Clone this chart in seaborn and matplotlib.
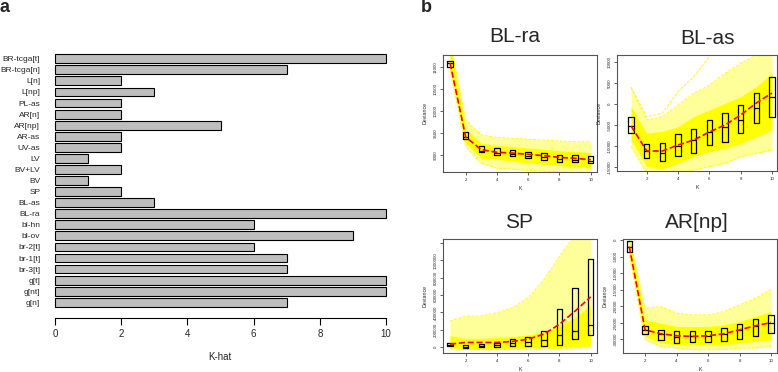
import numpy as np
import pandas as pd
import matplotlib
matplotlib.use("Agg")
import matplotlib.pyplot as plt
import seaborn as sns

# ---------------- data: panel a ----------------
categories = ["BR-tcga[t]", "BR-tcga[n]", "L[n]", "L[np]", "PL-as", "AR[n]", "AR[np]",
              "AR-as", "UV-as", "LV", "BV+LV", "BV", "SP", "BL-as", "BL-ra", "bl-hn",
              "bl-ov", "br-2[t]", "br-1[t]", "br-3[t]", "g[t]", "g[nt]", "g[n]"]
khat = [10, 7, 2, 3, 2, 2, 5, 2, 2, 1, 2, 1, 2, 3, 10, 6, 9, 6, 7, 7, 10, 10, 7]
khat_ticks = [0, 2, 4, 6, 8, 10]

# ---------------- data: panel b ----------------
k = [1, 2, 3, 4, 5, 6, 7, 8, 9, 10]
k_ticks = [2, 4, 6, 8, 10]

# BL-ra
blra_med = [11091, 9409, 9091, 9045, 9023, 8977, 8955, 8909, 8886, 8864]
blra_q1 = [11000, 9364, 9061, 9000, 8970, 8924, 8894, 8848, 8833, 8818]
blra_q3 = [11136, 9530, 9197, 9152, 9121, 9076, 9045, 9000, 9000, 8985]
blra_mean = [11091, 9409, 9121, 9061, 9045, 9015, 8985, 8947, 8924, 8894]
blra_hi = [11600, 9795, 9455, 9400, 9380, 9360, 9340, 9320, 9300, 9300]
blra_lo = [10932, 9189, 8811, 8700, 8680, 8650, 8630, 8620, 8600, 8600]
blra_chi = [11500, 9607, 9266, 9220, 9190, 9160, 9130, 9100, 9080, 9050]
blra_clo = [10980, 9266, 8925, 8900, 8860, 8820, 8790, 8760, 8730, 8700]
blra_yticks = [9000, 9500, 10000, 10500, 11000]

# BL-as
blas_med = [-5238, -11190, -11667, -10000, -8571, -6667, -5476, -3810, -952, 1667]
blas_q1 = [-6905, -12857, -13571, -12381, -11667, -9762, -9048, -6905, -4524, -3095]
blas_q3 = [-3095, -9524, -9286, -7143, -5952, -3810, -2143, -238, 2619, 6429]
blas_mean = [-5238, -11190, -11190, -9762, -8571, -6667, -5000, -2619, 238, 2619]
blas_hi = [3970, -3810, -3020, -240, 2540, 4520, 7300, 9680, 11670, 12500]
blas_lo = [-10160, -16500, -16500, -16500, -15700, -14920, -14130, -12540, -11750, -10950]
blas_chi = [-640, -6980, -6500, -5400, -3020, -1430, 160, 1750, 4130, 7300]
blas_clo = [-8570, -14920, -15500, -14130, -12540, -11350, -10550, -9370, -7780, -6190]
blas_out = [3970, -3020, -2220, 2930, 6500, 11270, 16000, 20000, 24000, 28000]
blas_yticks = [-15000, -10000, -5000, 0, 5000, 10000]

# SP
sp_med = [22857, 4000, 15000, 22857, 49000, 53000, 80000, 137000, 186000, 259000]
sp_q1 = [8000, -15000, -4000, -4000, 8000, 11000, 15000, 23000, 91000, 137000]
sp_q3 = [42286, 26000, 34000, 45700, 88000, 111000, 186000, 434000, 682000, 1013000]
sp_mean = [34000, 53000, 53000, 53000, 65000, 91000, 149000, 263000, 415000, 579000]
sp_hi = [300000, 358000, 358000, 396000, 453000, 568000, 777000, 1043000, 1300000, 1300000]
sp_lo = [-20000, -30000, -30000, -30000, -25000, -25000, -20000, -15000, -10000, 0]
sp_chi = [130000, 100000, 100000, 110000, 120000, 140000, 171000, 248000, 341000, 487000]
sp_clo = [-4000, -30000, -25000, -20000, -15000, -10000, -4000, -4000, 0, 15000]
sp_yticks = [0, 200000, 400000, 600000, 800000, 1000000, 1200000]
sp_yticklabels = ["0", "200000", "400000", "600000", "800000", "1000000", ""]

# AR[np]
ar_med = [-2000, -27100, -28300, -29300, -29100, -29100, -28300, -27100, -26100, -25100]
ar_q1 = [-3500, -28300, -30100, -31100, -30900, -30900, -30600, -29900, -29100, -28100]
ar_q3 = [-400, -25900, -27300, -27600, -27600, -27600, -26600, -25300, -23900, -22600]
ar_mean = [-2000, -27100, -28300, -28900, -29100, -28900, -28300, -27100, -25900, -24900]
ar_hi = [1000, -20600, -20100, -22100, -22600, -22600, -21600, -19600, -17600, -14900]
ar_lo = [-4500, -30100, -32100, -32600, -33100, -33100, -33100, -32600, -32600, -32100]
ar_chi = [1000, -24100, -25100, -26100, -26100, -26100, -25600, -24600, -23100, -21600]
ar_clo = [-4000, -29100, -31100, -31600, -31600, -31600, -31600, -31100, -30600, -30100]
ar_yticks = [-30000, -25000, -20000, -15000, -10000, -5000, 0]

# ---------------- figure ----------------
sns.set_style("white")
plt.rcParams["font.family"] = ["Liberation Sans", "DejaVu Sans"]

W, H = 778, 372
fig = plt.figure(figsize=(W / 100, H / 100), dpi=100)


def px_axes(x0, x1, y0, y1):
    return fig.add_axes([x0 / W, 1 - y1 / H, (x1 - x0) / W, (y1 - y0) / H])


# ---- panel a ----
ax = px_axes(50, 392, 50, 318)
df = pd.DataFrame({"cat": categories, "khat": khat})
sns.barplot(data=df, y="cat", x="khat", orient="h", color="#BEBEBE", saturation=1,
            edgecolor="black", linewidth=0.8, width=0.8, ax=ax)
ax.set_xlim(-0.15, 10.18)
ax.set_ylim(23.42, -0.79)
for s in ["top", "right", "left"]:
    ax.spines[s].set_visible(False)
ax.spines["bottom"].set_bounds(0, 10)
ax.spines["bottom"].set_color("black")
ax.spines["bottom"].set_linewidth(0.8)
ax.set_xticks(khat_ticks)
ax.tick_params(axis="x", bottom=True, length=5, width=0.8, pad=3, labelsize=7,
               direction="out", color="black")
ax.tick_params(axis="y", left=False, length=0, pad=7, labelsize=6)
ax.set_xlabel("")
ax.set_ylabel("")
fig.text(220 / W, 1 - 357 / H, "K-hat", fontsize=7, ha="center", va="center")
fig.text(0 / W, 1 - 8 / H, "a", fontsize=13, fontweight="bold", ha="left", va="center")
fig.text(421 / W, 1 - 8 / H, "b", fontsize=13, fontweight="bold", ha="left", va="center")


def panel(box, xlim, ylim, yticks, yticklabels, med, q1, q3, mean, lo, hi, clo, chi,
          extra=None):
    a = px_axes(*box)
    a.fill_between(k, lo, hi, color="#FFFF99", lw=0, zorder=1)
    a.fill_between(k, clo, chi, color="#FFFF00", lw=0, zorder=2)
    for arr in (lo, hi):
        sns.lineplot(x=k, y=arr, ax=a, color="#FFFF00", lw=0.6, linestyle="--", zorder=2)
    if extra is not None:
        sns.lineplot(x=k, y=extra, ax=a, color="#FFFF00", lw=0.6, linestyle="--", zorder=2)
    stats = [dict(med=m, q1=lo_, q3=hi_, whislo=lo_, whishi=hi_, fliers=[])
             for m, lo_, hi_ in zip(med, q1, q3)]
    a.bxp(stats, positions=k, widths=0.35, showcaps=False, manage_ticks=False,
          boxprops=dict(color="black", lw=0.9), medianprops=dict(color="black", lw=0.9),
          whiskerprops=dict(lw=0), zorder=4)
    sns.lineplot(x=k, y=mean, ax=a, color="red", lw=1.2, linestyle="--", zorder=5)
    a.set_xlim(*xlim)
    a.set_ylim(*ylim)
    a.set_xticks(k_ticks)
    a.set_xticklabels([str(t) for t in k_ticks])
    a.set_yticks(yticks)
    a.set_yticklabels(yticklabels, rotation=90, va="center")
    a.tick_params(axis="both", bottom=True, left=True, length=2.5, width=0.6,
                  labelsize=3.2, pad=1.5, direction="out", color="#444444")
    for s in a.spines.values():
        s.set_color("#555555")
        s.set_linewidth(0.8)
    a.set_xlabel("K", fontsize=3.8, labelpad=3)
    a.set_ylabel("Deviance", fontsize=3.8, labelpad=4)
    return a


panel((443, 597, 55, 172), (0.55, 10.4), (8614, 11273), blra_yticks,
      [str(t) for t in blra_yticks], blra_med, blra_q1, blra_q3, blra_mean,
      blra_lo, blra_hi, blra_clo, blra_chi)
panel((617, 777, 55, 171), (0.1, 10.32), (-15952, 11667), blas_yticks,
      [str(t) for t in blas_yticks], blas_med, blas_q1, blas_q3, blas_mean,
      blas_lo, blas_hi, blas_clo, blas_chi, extra=blas_out)
panel((443, 597, 239, 353), (0.55, 10.4), (-68571, 1245714), sp_yticks,
      sp_yticklabels, sp_med, sp_q1, sp_q3, sp_mean, sp_lo, sp_hi, sp_clo, sp_chi)
panel((623, 777, 239, 353), (0.6, 10.38), (-34100, 300), ar_yticks,
      [str(t) for t in ar_yticks], ar_med, ar_q1, ar_q3, ar_mean,
      ar_lo, ar_hi, ar_clo, ar_chi)

titles = [("BL-ra", 515, 37), ("BL-as", 707, 39), ("SP", 519, 223), ("AR[np]", 697, 222)]
for t, tx, ty in titles:
    fig.text(tx / W, 1 - ty / H, t, fontsize=15, ha="center", va="center")

fig.savefig("out.png", dpi=100)
